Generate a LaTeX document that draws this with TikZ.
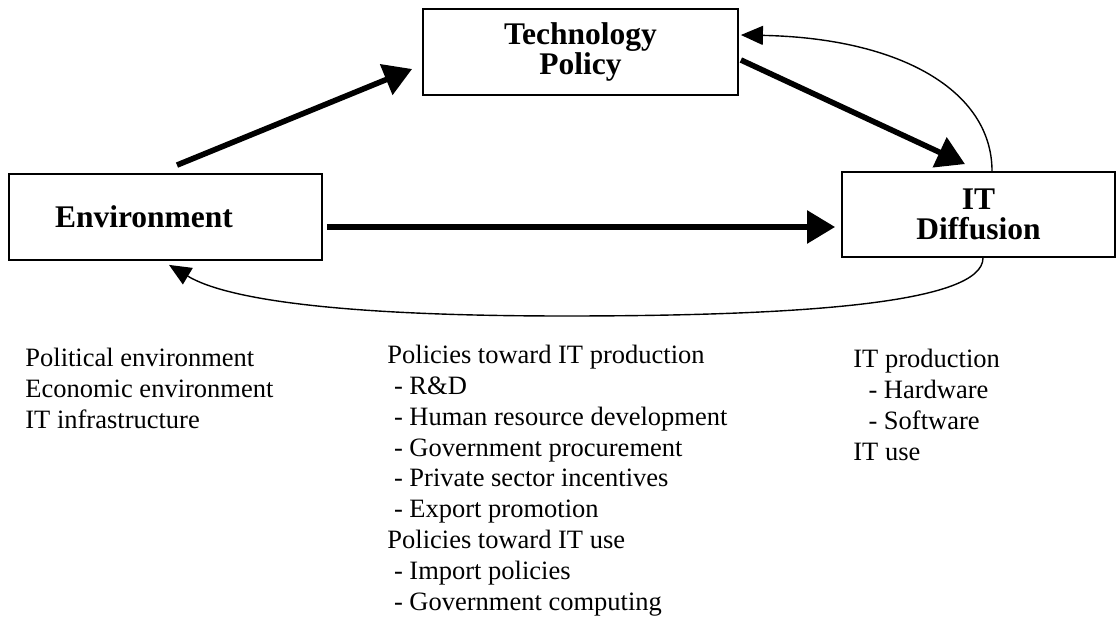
\documentclass[tikz,border=0pt]{standalone}
\usepackage{fontspec}
\setmainfont{Liberation Serif}
\usepackage{tikz}
\usetikzlibrary{arrows.meta,positioning,calc}

\begin{document}
\begin{tikzpicture}[x=0.5pt, y=-0.5pt,
    box/.style={draw, line width=0.9pt, inner sep=0pt, align=center,
        font=\bfseries\fontsize{15.75}{14.7}\selectfont},
    flow/.style={line width=2.8pt, -{Triangle[length=14pt, width=16pt]}},
    feedback/.style={line width=0.7pt, -{Triangle[length=11pt, width=9.5pt]}},
    listtext/.style={inner sep=0pt, anchor=north west, align=left,
        font=\fontsize{13.25}{15.4}\selectfont}]
    \useasboundingbox (0,0) rectangle (1117,624);

    % Boxes
    \node[box, minimum width=157.5pt, minimum height=43pt] (tp) at (580.5,52) {Technology\\Policy};
    \node[box, minimum width=156.5pt, minimum height=43pt] (env) at (165.5,217) {Environment\hspace*{21.5pt}};
    \node[box, minimum width=136.5pt, minimum height=42.5pt] (itd) at (978.5,214.5) {IT\\Diffusion};

    % Main arrows
    \draw[flow] ($(env.north)+(11.5,-8)$) -- ($(tp.west)+(-10,17)$);
    \draw[flow] ($(tp.east)+(2,8)$) -- ($(itd.north)+(-13.5,-7)$);
    \draw[flow] ($(env.east)+(4,10)$) -- ($(itd.west)+(-6,12.5)$);

    % Feedback arrows
    \coordinate (low) at (565,316);
    \draw[feedback] ($(itd.north)+(13.5,0)$) .. controls +(0,-80) and +(160,3) .. ($(tp.east)+(2,-17)$);
    \draw[feedback] ($(itd.south)+(4.5,0)$) .. controls +(0,45) and +(240,0) .. (low)
        .. controls +(-215,0) and +(60,36) .. ($(env.south)+(3.5,4)$);

    % Lists
    \node[listtext] (envlist) at (25,348) {Political environment\\Economic environment\\IT infrastructure};
    \node[listtext] (tplist) at (387,345) {Policies toward IT production\\
        \hspace*{0.25em}- R\&D\\
        \hspace*{0.25em}- Human resource development\\
        \hspace*{0.25em}- Government procurement\\
        \hspace*{0.25em}- Private sector incentives\\
        \hspace*{0.25em}- Export promotion\\
        Policies toward IT use\\
        \hspace*{0.25em}- Import policies\\
        \hspace*{0.25em}- Government computing};
    \node[listtext] (itdlist) at (853,349) {IT production\\
        \hspace*{0.57em}- Hardware\\
        \hspace*{0.57em}- Software\\
        IT use};
\end{tikzpicture}
\end{document}
